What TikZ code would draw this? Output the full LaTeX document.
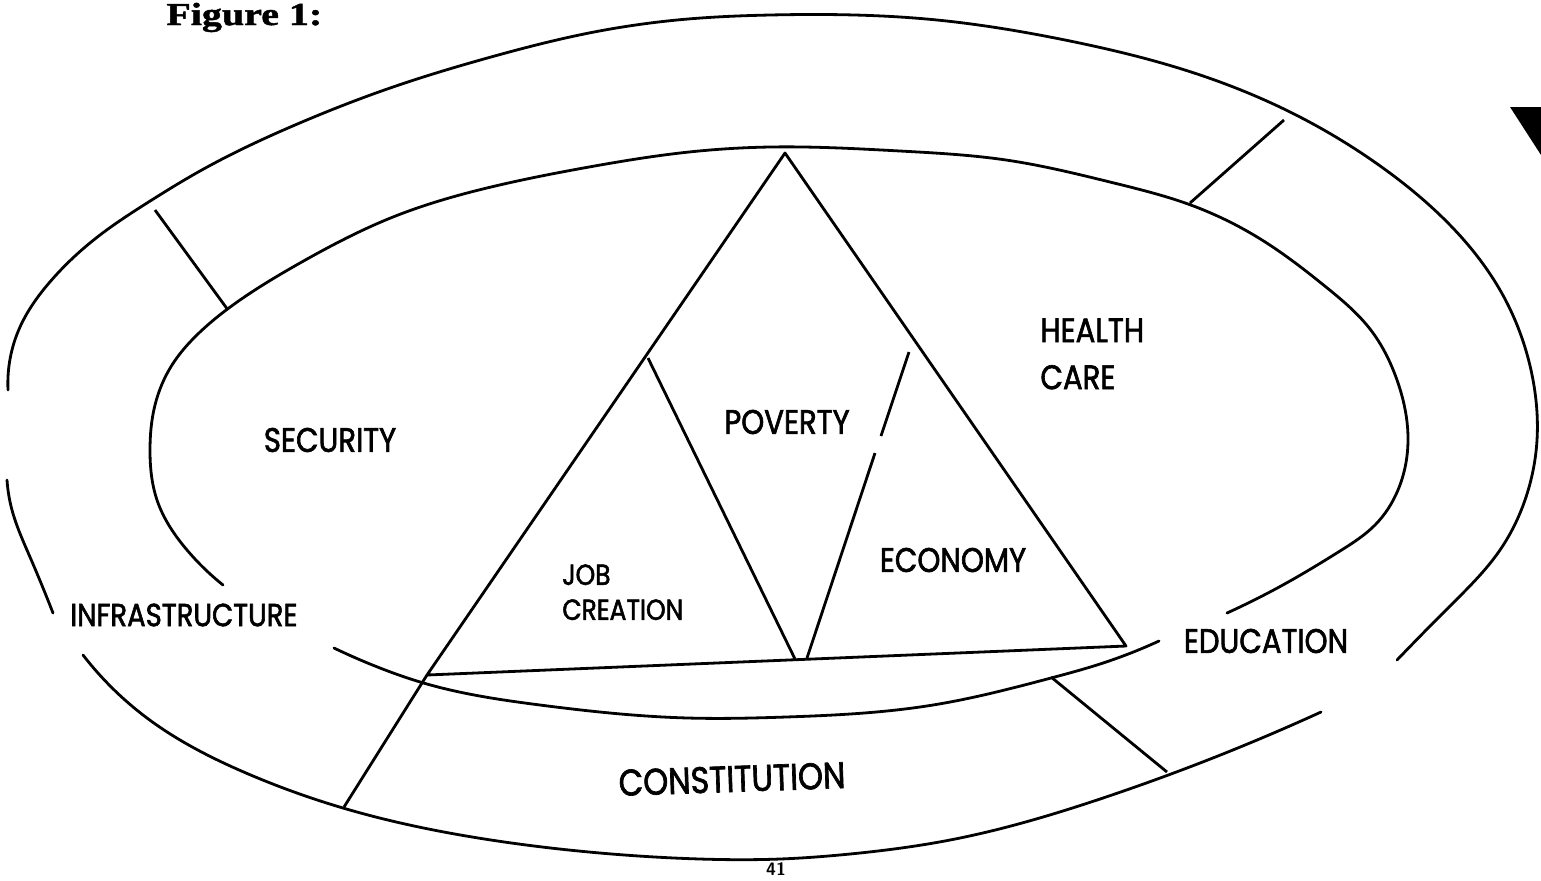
\documentclass[tikz,border=0pt]{standalone}
\usepackage{fontspec}
\newfontfamily\regionfont[FakeStretch=0.86,FakeBold=1.8]{Poppins}
\newfontfamily\titlefont[FakeStretch=1.25,FakeBold=1.5]{Liberation Serif}
\usepackage{tikz}
\usetikzlibrary{calc,hobby}
\tikzstyle{ring} = [line width=1.4pt, line cap=round, line join=round, use Hobby shortcut]
\tikzstyle{region} = [inner sep=0pt, font=\regionfont\fontsize{17}{20}\selectfont]
\tikzstyle{smallregion} = [inner sep=0pt, align=left, font=\regionfont\fontsize{14.5}{17.5}\selectfont]

\begin{document}
\begin{tikzpicture}[x=0.5pt,y=-0.5pt]
    \useasboundingbox (0,0) rectangle (1541,880);

    % outer ring, broken where the labels sit
    \draw[ring] (8,390) .. (20,327) .. (49,283) .. (100,235) .. (147,203) .. (200,171) .. (295,125) .. (393,87) .. (491,57) .. (589,33) .. (688,19) .. (770,15) .. (937,20) .. (1065,40) .. (1188,71) .. (1286,110) .. (1383,168) .. (1450,225) .. (1500,290) .. (1533,380) .. (1537,440) .. (1525,500) .. (1500,550) .. (1450,606) .. (1397,660);
    \draw[ring] (7,480) .. (12,510) .. (30,557) .. (53,613);
    \draw[ring] (83,655) .. (147,718) .. (246,773) .. (343,808) .. (491,840) .. (600,853) .. (700,859) .. (780,859) .. (850,854) .. (950,840) .. (1103,798) .. (1200,763) .. (1321,712);

    % inner ring
    \draw[ring] (223,585) .. (187,550) .. (157,500) .. (150,450) .. (155,405) .. (172,365) .. (200,332) .. (240,300) .. (300,263) .. (393,217) .. (491,187) .. (589,167) .. (680,153) .. (770,147) .. (900,151) .. (1006,160) .. (1114,183) .. (1188,204) .. (1262,240) .. (1326,287) .. (1370,329) .. (1397,380) .. (1408,440) .. (1398,490) .. (1375,525) .. (1340,551) .. (1290,581) .. (1227,613);
    \draw[ring] (334,648) .. (380,668) .. (427,684) .. (540,705) .. (688,718) .. (786,717) .. (933,705) .. (1051,678) .. (1100,664) .. (1159,641);

    % pyramid
    \coordinate (apex) at (785,153);
    \coordinate (baseL) at (427,675);
    \coordinate (baseR) at (1126,646);
    \coordinate (jobTop) at (648,358);
    \coordinate (jobFoot) at (795,659);
    \coordinate (ecoFoot) at (807,658);
    \coordinate (ecoGapA) at (875,453);
    \coordinate (ecoGapB) at (881,436);
    \coordinate (ecoTop) at (909,352);
    \draw[line width=1.4pt, line join=round] (apex) -- (baseL) -- (baseR) -- cycle;
    \draw[line width=1.4pt] (jobTop) -- (jobFoot);
    \draw[line width=1.4pt] (ecoFoot) -- (ecoGapA);
    \draw[line width=1.4pt] (ecoGapB) -- (ecoTop);

    % spokes between the rings
    \coordinate (spokeNW1) at (155,210);
    \coordinate (spokeNW2) at (228,310);
    \coordinate (spokeNE1) at (1284,120);
    \coordinate (spokeNE2) at (1190,203);
    \coordinate (spokeSW) at (344,807);
    \coordinate (spokeSE1) at (1051,677);
    \coordinate (spokeSE2) at (1167,772);
    \draw[line width=1.4pt] (baseL) -- (spokeSW);
    \draw[line width=1.4pt] (spokeNW1) -- (spokeNW2);
    \draw[line width=1.4pt] (spokeNE1) -- (spokeNE2);
    \draw[line width=1.4pt] (spokeSE1) -- (spokeSE2);

    \node[region] (security) at (330,440) {SECURITY};
    \node[region] (poverty) at (787,422) {POVERTY};
    \node[region, align=left, anchor=north west, font=\regionfont\fontsize{17}{23.5}\selectfont] (health) at (1040,318) {HEALTH\\CARE};
    \node[smallregion, anchor=north west] (job) at (562,564) {JOB\\CREATION};
    \node[region] (economy) at (953,560) {ECONOMY};
    \node[region, font=\regionfont\fontsize{16}{20}\selectfont] (infra) at (184,615) {INFRASTRUCTURE};
    \node[region] (education) at (1266,641) {EDUCATION};
    \node[region, rotate=2, font=\regionfont\fontsize{18.5}{22}\selectfont] (constitution) at (732,779) {CONSTITUTION};

    \node[inner sep=0pt, anchor=base west, font=\titlefont\bfseries\fontsize{16}{18}\selectfont] (title) at (166,25) {Figure 1:};
    \node[inner sep=0pt, font=\sffamily\bfseries\fontsize{9}{10}\selectfont] (pagenum) at (776,869) {41};

    \fill (1510,107) -- (1541,107) -- (1541,155) -- cycle;
\end{tikzpicture}
\end{document}
